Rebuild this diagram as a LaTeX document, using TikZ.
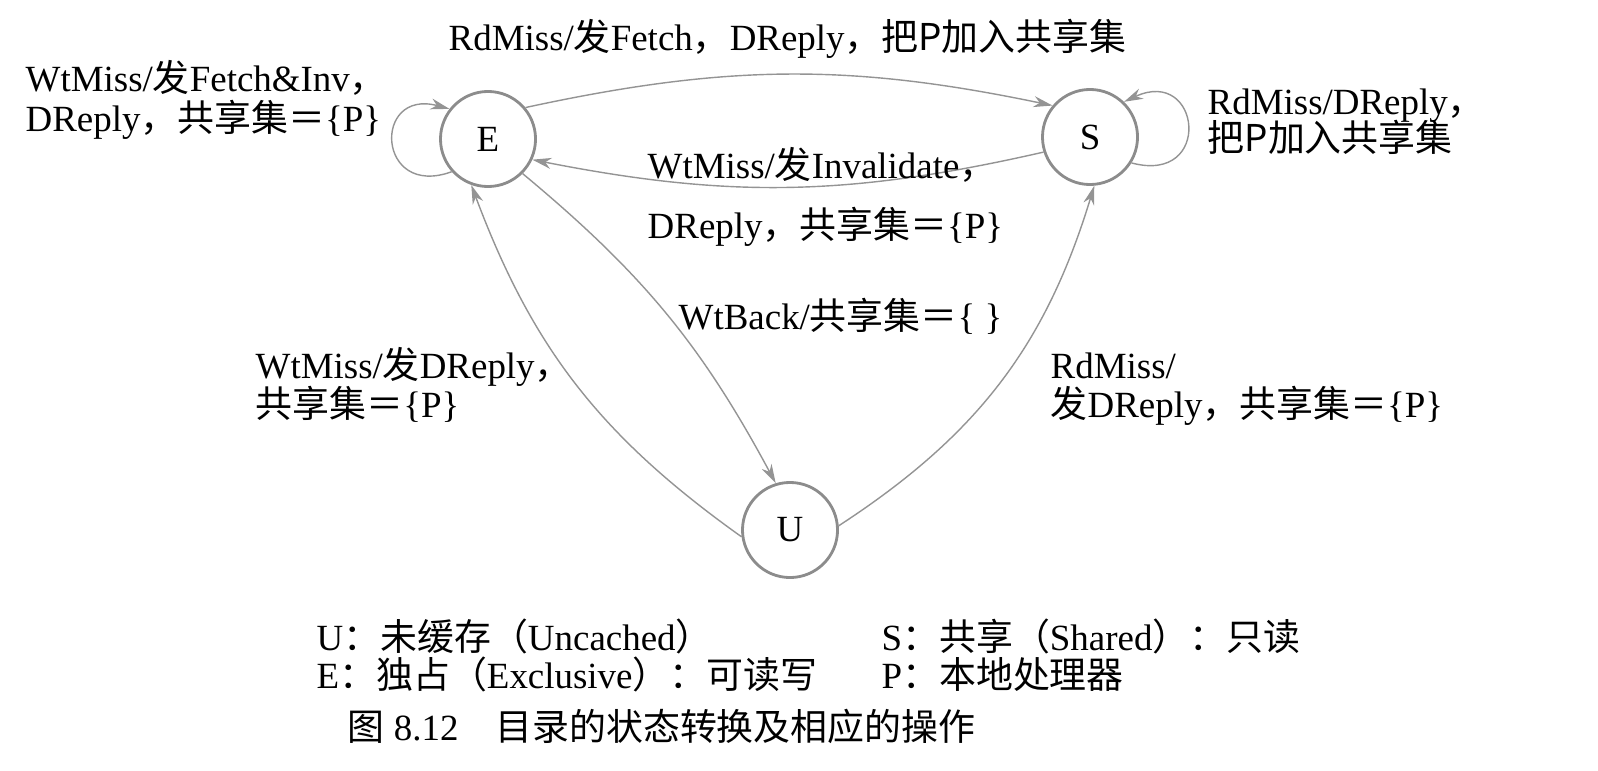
\documentclass[tikz,border=0pt]{standalone}
\usepackage{fontspec}
\setmainfont{Liberation Serif}
\newfontfamily\cjk{Noto Sans CJK SC}
\newcommand{\zh}[1]{{\cjk #1}}
\usetikzlibrary{arrows.meta}

\begin{document}
\begin{tikzpicture}[x=0.01cm, y=0.01cm,
    every node/.style={font=\fontsize{10.5}{12}\selectfont},
    state/.style={draw=black!45, line width=0.8pt, circle, minimum size=0.95cm, inner sep=0pt},
    trans/.style={draw=black!42, line width=0.4pt, -{Stealth[length=1.9mm, width=1.1mm, inset=0.6mm]}},
    lbl/.style={inner sep=0pt, anchor=base west}]
    \useasboundingbox (0,0) rectangle (1598,-770);
    % states
    \node[state] (E) at (488,-139) {E};
    \node[state] (S) at (1090,-137) {S};
    \node[state] (U) at (790,-530) {U};
    % transitions
    \path (E.40) edge[trans, bend left=12] (S.140);
    \path (S.198) edge[trans, bend left=12] (E.-25);
    \path (E.-45) edge[trans, bend left=11] (U.107);
    \path (U.188) edge[trans, bend left=17] (E.-110);
    \path (U.5) edge[trans, bend right=20] (S.-85);
    \path (E.222) edge[trans, out=200, in=165, distance=0.8cm] (E.142);
    \path (S.-32) edge[trans, out=-15, in=25, distance=0.85cm] (S.46);
    % labels
    \node[lbl] (top) at (448,-51) {RdMiss/\zh{发}Fetch\zh{，}DReply\zh{，把P加入共享集}};
    \node[lbl] (eloopa) at (25,-92) {WtMiss/\zh{发}Fetch\&Inv\zh{，}};
    \node[lbl] (eloopb) at (25,-132) {DReply\zh{，共享集＝}\{P\}};
    \node[lbl] (sloopa) at (1207,-114) {RdMiss/DReply\zh{，}};
    \node[lbl] (sloopb) at (1207,-152) {\zh{把P加入共享集}};
    \node[lbl] (inva) at (647,-179) {WtMiss/\zh{发}Invalidate\zh{，}};
    \node[lbl] (invb) at (647,-238) {DReply\zh{，共享集＝}\{P\}};
    \node[lbl] (wtback) at (678,-329) {WtBack/\zh{共享集＝}\{\ \}};
    \node[lbl] (uea) at (255,-378) {WtMiss/\zh{发}DReply\zh{，}};
    \node[lbl] (ueb) at (255,-417) {\zh{共享集＝}\{P\}};
    \node[lbl] (usa) at (1050,-378) {RdMiss/};
    \node[lbl] (usb) at (1050,-417) {\zh{发}DReply\zh{，共享集＝}\{P\}};
    % legend
    \node[lbl] (keyU) at (316,-650) {U\zh{：未缓存（}Uncached\zh{）}};
    \node[lbl] (keyE) at (316,-688) {E\zh{：独占（}Exclusive\zh{）：可读写}};
    \node[lbl] (keyS) at (881,-650) {S\zh{：共享（}Shared\zh{）：只读}};
    \node[lbl] (keyP) at (881,-688) {P\zh{：本地处理器}};
    \node[lbl] (caption) at (347,-740) {\zh{图} 8.12\zh{　目录的状态转换及相应的操作}};
\end{tikzpicture}
\end{document}
